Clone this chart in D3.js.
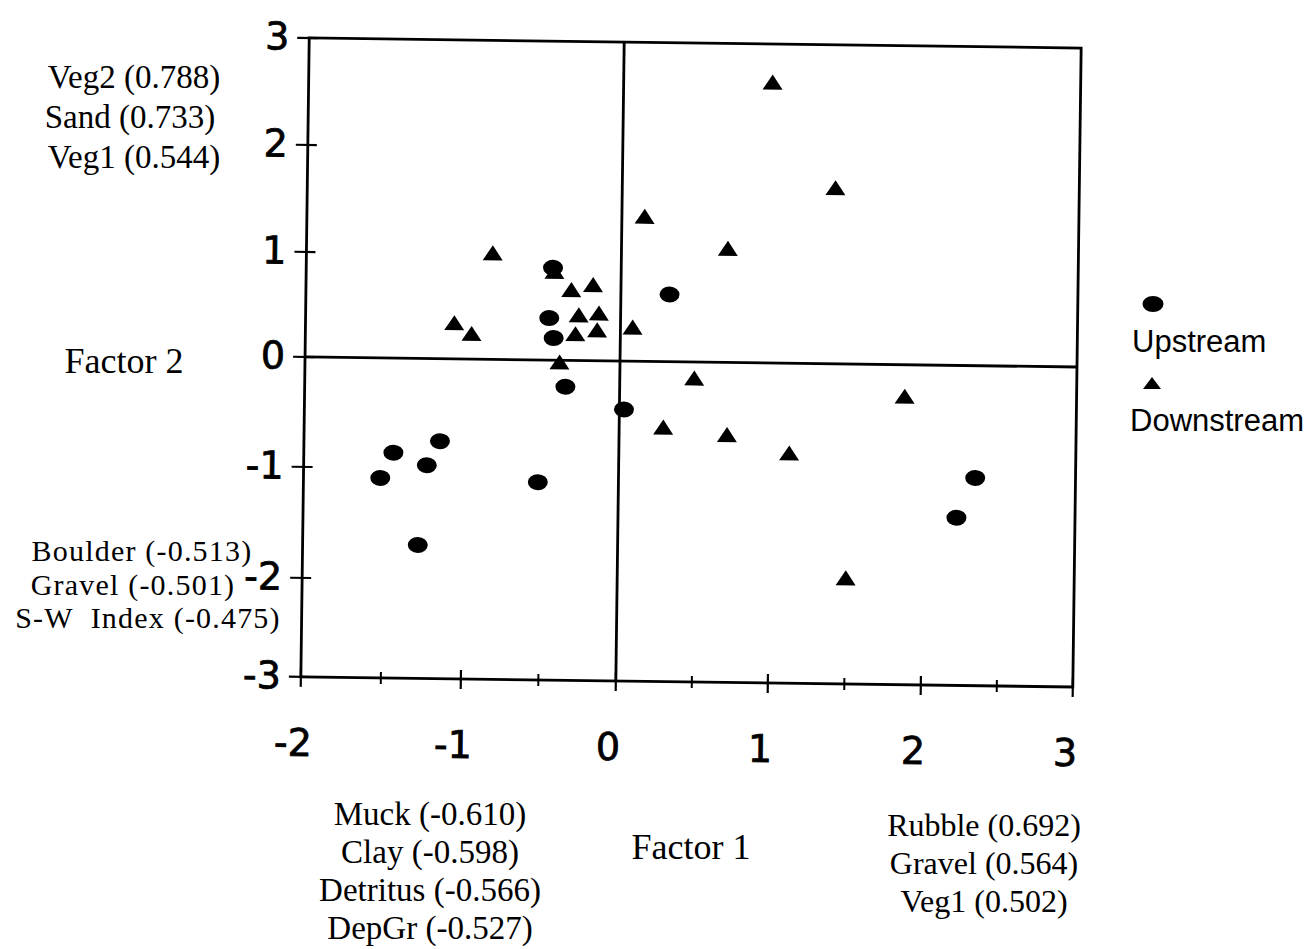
<!DOCTYPE html>
<html>
<head>
<meta charset="utf-8">
<script src="https://cdn.jsdelivr.net/npm/d3@7/dist/d3.min.js"></script>
<style>
  html, body { margin: 0; padding: 0; background: #fff; }
  svg text { white-space: pre; }
</style>
</head>
<body>
<div id="chart"></div>
<script>
// factor scores: [factor1, factor2]
const upstream = [
  [-0.44, 0.88], [-0.46, 0.40], [-0.43, 0.21], [-0.35, -0.24], [0.03, -0.44],
  [0.32, 0.64], [-1.15, -0.75], [-1.44, -0.86], [-1.23, -0.97], [-1.52, -1.09],
  [-0.52, -1.11], [-1.28, -1.69], [2.34, -1.02], [2.22, -1.38]
];
const downstream = [
  [0.98, 2.64], [1.40, 1.66], [0.15, 1.37], [0.70, 1.08], [-0.83, 1.01],
  [-0.43, 0.84], [-0.32, 0.67], [-0.18, 0.72], [-1.07, 0.34], [-0.96, 0.24],
  [-0.27, 0.43], [-0.14, 0.45], [-0.29, 0.25], [-0.15, 0.29], [0.08, 0.32],
  [-0.39, -0.02], [0.49, -0.15], [0.29, -0.60], [0.71, -0.66], [1.12, -0.82],
  [1.87, -0.29], [1.50, -1.94]
];
const xTicks = [-2, -1, 0, 1, 2, 3];
const xMinorTicks = [-1.5, -0.5, 0.5, 1.5, 2.5];
const yTicks = [-3, -2, -1, 0, 1, 2, 3];

// loadings written around the plot
const f2Positive = ["Veg2 (0.788)", "Sand (0.733)", "Veg1 (0.544)"];
const f2Negative = ["Boulder (-0.513)", "Gravel (-0.501)", "S-W  Index (-0.475)"];
const f1Negative = ["Muck (-0.610)", "Clay (-0.598)", "Detritus (-0.566)", "DepGr (-0.527)"];
const f1Positive = ["Rubble (0.692)", "Gravel (0.564)", "Veg1 (0.502)"];
const seriesNames = ["Upstream", "Downstream"];

const width = 1313, height = 949;
const sans = "Arial, 'Liberation Sans', sans-serif";
const tickFont = "'DejaVu Sans', Arial, sans-serif";
const serif = "'Times New Roman', 'Liberation Serif', serif";

const svg = d3.select("#chart").append("svg")
  .attr("width", width)
  .attr("height", height);

// the printed tick spacing is not even, so the scales follow the ticks
const x = d3.scaleLinear()
  .domain(xTicks)
  .range([305, 465, 620, 772, 925, 1077]);
const y = d3.scaleLinear()
  .domain(yTicks)
  .range([682, 583, 472, 362, 257, 150, 43]);

// the scan is turned a little, so the plot is too
const plot = svg.append("g").attr("transform", "rotate(0.75, 694, 363)");

const ink = "#000";
const lw = 2.8;

// frame
plot.append("rect")
  .attr("x", x(-2)).attr("y", y(3))
  .attr("width", x(3) - x(-2)).attr("height", y(-3) - y(3))
  .attr("fill", "none").attr("stroke", ink).attr("stroke-width", lw);

// zero lines
plot.append("line")
  .attr("x1", x(-2)).attr("x2", x(3)).attr("y1", y(0)).attr("y2", y(0))
  .attr("stroke", ink).attr("stroke-width", lw);
plot.append("line")
  .attr("x1", x(0)).attr("x2", x(0)).attr("y1", y(3)).attr("y2", y(-3))
  .attr("stroke", ink).attr("stroke-width", lw);

// x ticks cross the bottom edge
plot.selectAll("line.xmajor").data(xTicks).enter().append("line")
  .attr("class", "xmajor")
  .attr("x1", (d) => x(d)).attr("x2", (d) => x(d))
  .attr("y1", y(-3) - 9).attr("y2", y(-3) + 10)
  .attr("stroke", ink).attr("stroke-width", 2.2);
plot.selectAll("line.xminor").data(xMinorTicks).enter().append("line")
  .attr("class", "xminor")
  .attr("x1", (d) => x(d)).attr("x2", (d) => x(d))
  .attr("y1", y(-3) - 6).attr("y2", y(-3) + 6)
  .attr("stroke", ink).attr("stroke-width", 2);

// y ticks cross the left edge
plot.selectAll("line.ytick").data(yTicks).enter().append("line")
  .attr("class", "ytick")
  .attr("x1", x(-2) - 12).attr("x2", x(-2) + 9)
  .attr("y1", (d) => y(d)).attr("y2", (d) => y(d))
  .attr("stroke", ink).attr("stroke-width", 2.2);

plot.selectAll("text.xlab").data(xTicks).enter().append("text")
  .attr("class", "xlab")
  .attr("x", (d) => x(d) - 7)
  .attr("y", y(-3) + 79)
  .attr("text-anchor", "middle")
  .attr("font-family", tickFont).attr("font-size", 38)
  .attr("stroke", ink).attr("stroke-width", 0.8)
  .text((d) => d);

plot.selectAll("text.ylab").data(yTicks).enter().append("text")
  .attr("class", "ylab")
  .attr("x", x(-2) - 20)
  .attr("y", (d) => y(d) + 12)
  .attr("text-anchor", "end")
  .attr("font-family", tickFont).attr("font-size", 38)
  .attr("stroke", ink).attr("stroke-width", 0.8)
  .text((d) => d);

const triangle = "M-10,7L0,-8L10,7Z";

plot.selectAll("ellipse.up").data(upstream).enter().append("ellipse")
  .attr("class", "up")
  .attr("cx", (d) => x(d[0])).attr("cy", (d) => y(d[1]))
  .attr("rx", 10).attr("ry", 8)
  .attr("fill", ink);

plot.selectAll("path.down").data(downstream).enter().append("path")
  .attr("class", "down")
  .attr("d", triangle)
  .attr("transform", (d) => `translate(${x(d[0])},${y(d[1])})`)
  .attr("fill", ink);

// legend
const legend = svg.append("g");
legend.append("ellipse")
  .attr("cx", 1153).attr("cy", 304).attr("rx", 10.5).attr("ry", 8)
  .attr("fill", ink);
legend.append("path")
  .attr("d", "M-9,5L0,-7L9,5Z")
  .attr("transform", "translate(1152,384)")
  .attr("fill", ink);
legend.selectAll("text").data(seriesNames).enter().append("text")
  .attr("x", (d, i) => (i === 0 ? 1132 : 1130))
  .attr("y", (d, i) => (i === 0 ? 352 : 431))
  .attr("font-family", sans).attr("font-size", 31)
  .text((d) => d);

// loading annotations
function block(lines, cx, baseline, step, size, spacing) {
  svg.append("g").selectAll("text").data(lines).enter().append("text")
    .attr("x", (d, i) => (Array.isArray(cx) ? cx[i] : cx))
    .attr("y", (d, i) => baseline + i * step)
    .attr("text-anchor", "middle")
    .attr("font-family", serif).attr("font-size", size)
    .attr("letter-spacing", spacing || 0)
    .text((d) => d);
}

block(f2Positive, [134, 130, 134], 88, 40, 33);
block(f2Negative, [142, 133, 148], 561, 33.5, 30, 1.2);
block(f1Negative, 430, 825, 38, 33);
block(f1Positive, 984, 836, 38, 32);
block(["Factor 2"], 124, 373, 0, 36);
block(["Factor 1"], 691, 859, 0, 36);
</script>
</body>
</html>
